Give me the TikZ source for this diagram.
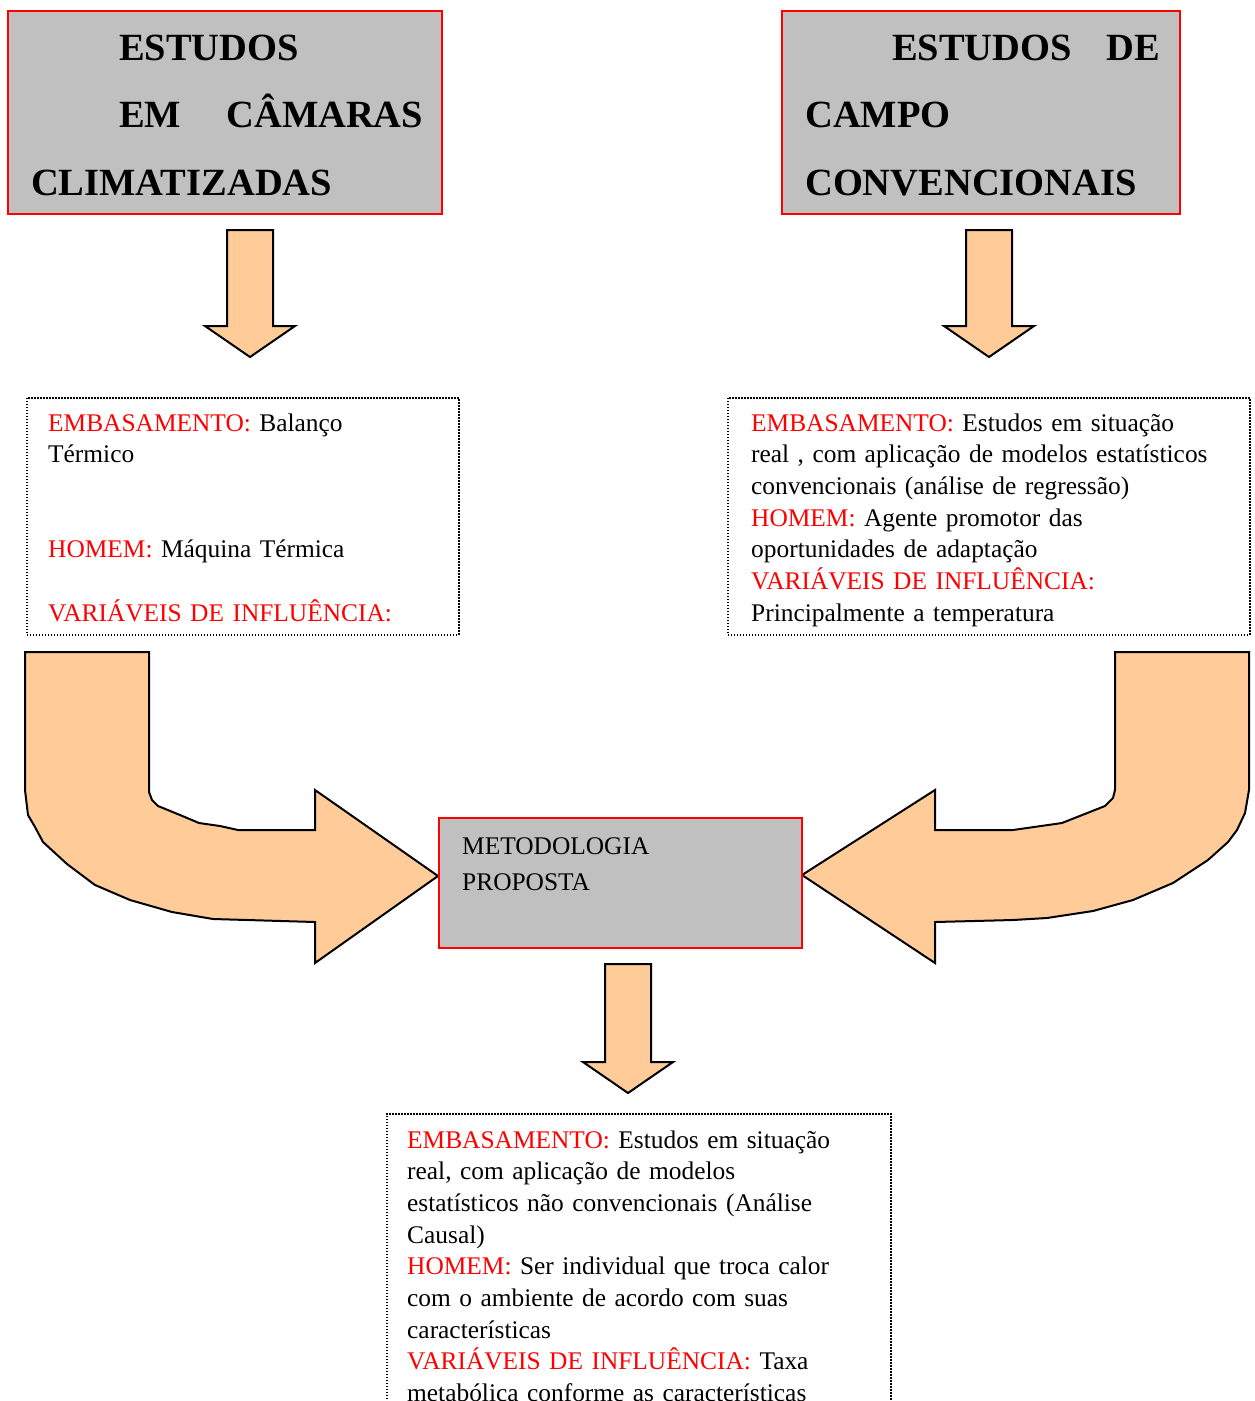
\documentclass[tikz,border=0pt]{standalone}
\usepackage{fontspec}
\setmainfont{Liberation Serif}

\definecolor{caixa}{HTML}{C0C0C0}
\definecolor{seta}{HTML}{FFCC99}

\newcommand{\rotulo}[1]{\textcolor{red}{#1}}

\tikzset{
  titlebox/.style = {draw = red, fill = caixa, line width = 2pt,
    anchor = north west, inner sep = 0pt},
  notebox/.style = {draw, line width = 1.5pt, dash pattern = on 1.5pt off 1.5pt,
    anchor = north west, inner sep = 0pt},
  arrowshape/.style = {draw, fill = seta, line width = 2pt, line join = miter},
  bigtext/.style = {font = \fontsize{38.5}{67.5}\selectfont\bfseries,
    anchor = base west, inner sep = 0pt, align = left},
  bodytext/.style = {font = \fontsize{25.4}{31.7}\selectfont,
    anchor = base west, inner sep = 0pt, align = left}
}

\begin{document}
\begin{tikzpicture}[x = 1pt, y = -1pt]
  \useasboundingbox (0, 0) rectangle (1254, 1401);
  \clip (0, 0) rectangle (1254, 1401);

  % setas retas
  \foreach \cx/\ty/\hy/\py in {250/230/326/357, 989/230/326/357, 628/964/1062/1093}
    \draw[arrowshape] (\cx-23, \ty) -- (\cx+23, \ty) -- (\cx+23, \hy) -- (\cx+45, \hy)
      -- (\cx, \py) -- (\cx-45, \hy) -- (\cx-23, \hy) -- cycle;

  % setas curvas
  \draw[arrowshape] (25, 652) -- (149, 652) -- (149, 792) -- (152, 800) -- (158, 806)
    -- (180, 815) -- (199, 823) -- (220, 826) -- (238, 830) -- (315, 830) -- (315, 790)
    -- (438, 876) -- (315, 963) -- (315, 922) -- (213, 919) -- (172, 912) -- (130, 900)
    -- (95, 885) -- (67, 864) -- (43, 842) -- (35, 827) -- (28, 815) -- (25, 790) -- cycle;
  \draw[arrowshape] (1115, 652) -- (1249, 652) -- (1249, 790) -- (1245, 813) -- (1237, 830)
    -- (1228, 842) -- (1208, 860) -- (1173, 883) -- (1133, 900) -- (1093, 911) -- (1047, 918)
    -- (1013, 920) -- (935, 922) -- (935, 963) -- (802, 875) -- (935, 790) -- (935, 830)
    -- (1013, 830) -- (1062, 823) -- (1105, 806) -- (1113, 798) -- (1115, 790) -- cycle;

  % caixas
  \node[titlebox, minimum width = 434pt, minimum height = 203pt] (camaras) at (7, 10) {};
  \node[titlebox, minimum width = 398pt, minimum height = 203pt] (campo) at (781, 10) {};
  \node[titlebox, minimum width = 363pt, minimum height = 130pt] (metodo) at (438, 817) {};
  \node[notebox, minimum width = 432pt, minimum height = 237pt] (balanco) at (26, 397) {};
  \node[notebox, minimum width = 522pt, minimum height = 237pt] (regressao) at (727, 397) {};
  \node[notebox, minimum width = 504pt, minimum height = 400pt] (causal) at (386, 1113) {};

  % textos
  \node[bigtext, text width = 392pt] (camarastxt) at (31, 60)
    {\hspace*{88pt}ESTUDOS\\ \hspace*{88pt}EM\hfill CÂMARAS\\ CLIMATIZADAS};
  \node[bigtext, text width = 355pt] (campotxt) at (805, 60)
    {\hspace*{87pt}ESTUDOS\hfill DE\\ CAMPO\\ CONVENCIONAIS};
  \node[bodytext, text width = 300pt, font = \fontsize{25.4}{36}\selectfont] (metodotxt) at (462, 854)
    {METODOLOGIA\\ PROPOSTA};
  \node[bodytext, text width = 400pt] (balancotxt) at (48, 431)
    {\rotulo{EMBASAMENTO:} Balanço\\ Térmico\\[2\baselineskip]
     \rotulo{HOMEM:} Máquina Térmica\\[\baselineskip]
     \rotulo{VARIÁVEIS DE INFLUÊNCIA:}};
  \node[bodytext, text width = 495pt] (regressaotxt) at (751, 431)
    {\rotulo{EMBASAMENTO:} Estudos em situação\\
     real , com aplicação de modelos estatísticos\\
     convencionais (análise de regressão)\\
     \rotulo{HOMEM:} Agente promotor das\\
     oportunidades de adaptação\\
     \rotulo{VARIÁVEIS DE INFLUÊNCIA:}\\
     Principalmente a temperatura};
  \node[bodytext, text width = 480pt] (causaltxt) at (407, 1148)
    {\rotulo{EMBASAMENTO:} Estudos em situação\\
     real, com aplicação de modelos\\
     estatísticos não convencionais (Análise\\
     Causal)\\
     \rotulo{HOMEM:} Ser individual que troca calor\\
     com o ambiente de acordo com suas\\
     características\\
     \rotulo{VARIÁVEIS DE INFLUÊNCIA:} Taxa\\
     metabólica conforme as características};
\end{tikzpicture}
\end{document}
